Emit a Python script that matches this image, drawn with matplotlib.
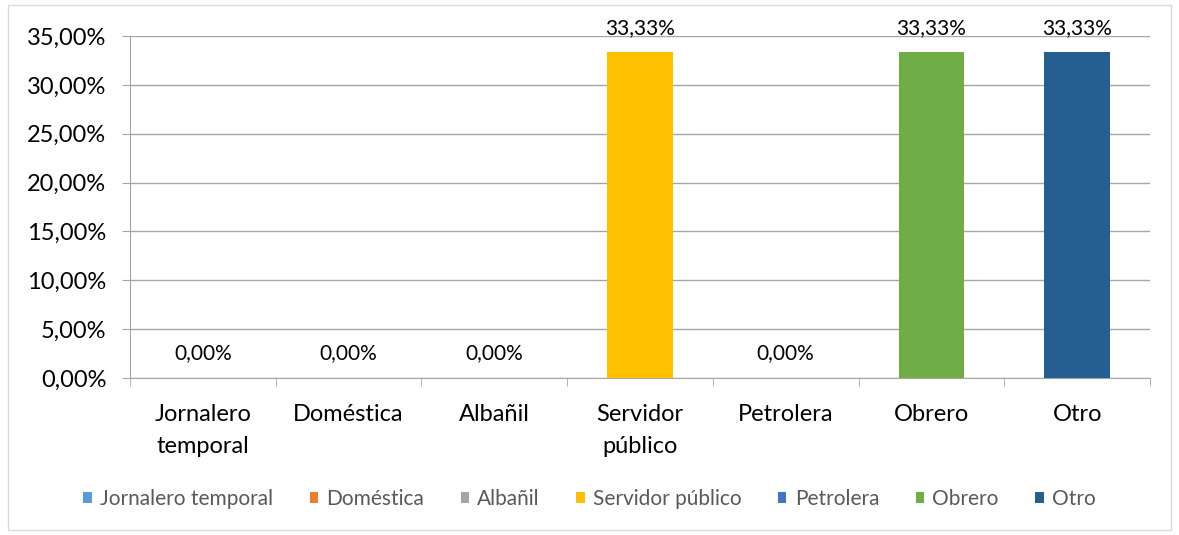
import numpy as np
import matplotlib.pyplot as plt
from matplotlib.patches import Rectangle
from matplotlib.ticker import FuncFormatter, MultipleLocator

plt.rcParams['font.family'] = ['Lato', 'DejaVu Sans']

categories = ['Jornalero temporal', 'Doméstica', 'Albañil', 'Servidor público',
              'Petrolera', 'Obrero', 'Otro']
tick_labels = ['Jornalero\ntemporal', 'Doméstica', 'Albañil', 'Servidor\npúblico',
               'Petrolera', 'Obrero', 'Otro']
values = [0.0, 0.0, 0.0, 33.33, 0.0, 33.33, 33.33]
colors = ['#5B9BD5', '#ED7D31', '#A5A5A5', '#FFC000', '#4472C4', '#70AD47', '#255E91']


def pct(v, _=None):
    return f'{v:.2f}%'.replace('.', ',')


fig = plt.figure(figsize=(11.79, 5.35), dpi=100)
ax = fig.add_axes([130 / 1179, 1 - 378 / 535, 1020 / 1179, 342 / 535])

# chart border
fig.patches.append(Rectangle((8 / 1179, 5 / 535), 1163 / 1179, 525 / 535,
                             transform=fig.transFigure, fill=False,
                             edgecolor='#D9D9D9', linewidth=1))

x = np.arange(len(categories))
for i, (cat, v, c) in enumerate(zip(categories, values, colors)):
    ax.bar(x[i], v, width=0.45, color=c, label=cat, zorder=3)
    ax.text(x[i], v + 1.5, pct(v), ha='center', va='bottom',
            fontsize=15, color='#000000', zorder=4)

ax.set_xlim(-0.5, len(categories) - 0.5)
ax.set_ylim(0, 35)
ax.yaxis.set_major_locator(MultipleLocator(5))
ax.yaxis.set_major_formatter(FuncFormatter(pct))
ax.grid(axis='y', color='#A6A6A6', linewidth=1, zorder=0)

ax.set_xticks(x)
ax.set_xticklabels(tick_labels, fontsize=17, linespacing=1.65)
ax.set_xticks(np.arange(-0.5, len(categories)), minor=True)
ax.tick_params(axis='x', which='major', length=0, pad=19)
ax.tick_params(axis='x', which='minor', length=6, color='#A6A6A6')
ax.tick_params(axis='y', length=6, color='#A6A6A6', labelsize=17, pad=11)

for s in ['top', 'right']:
    ax.spines[s].set_visible(False)
for s in ['left', 'bottom']:
    ax.spines[s].set_color('#A6A6A6')

handles, labels = ax.get_legend_handles_labels()
leg = fig.legend(handles, labels, loc='center', bbox_to_anchor=(0.5, 1 - 499 / 535),
                 ncol=7, frameon=False, fontsize=15, handlelength=0.4,
                 handleheight=0.4, handletextpad=0.4, columnspacing=1.75)
for t in leg.get_texts():
    t.set_color('#595959')

plt.savefig('out.png', dpi=100)
plt.close()
